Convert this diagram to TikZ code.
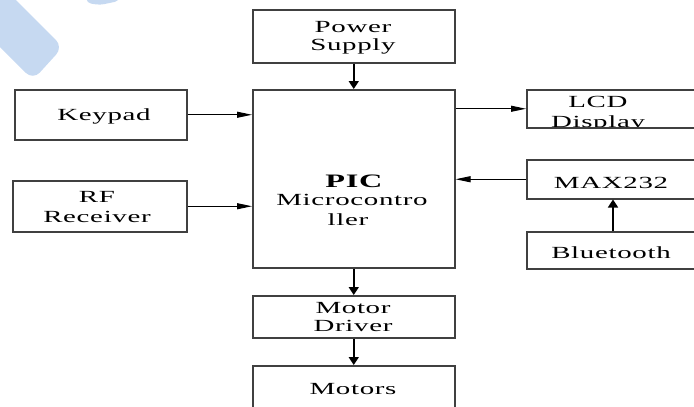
\documentclass[tikz,border=0pt]{standalone}
\usepackage{fontspec}
\setmainfont{Liberation Serif}[FakeStretch=1.7, LetterSpace=4]
\usetikzlibrary{arrows.meta}
\definecolor{wm}{HTML}{C6D9F1}
\definecolor{boxline}{HTML}{404040}
\begin{document}
\begin{tikzpicture}[x=1pt,y=-1pt,
  blk/.style={draw=boxline, line width=1.5pt, rectangle, inner sep=0pt, anchor=north west},
  txt/.style={anchor=base, inner sep=0pt, font=\fontsize{17}{18}\selectfont},
  vArr/.style={line width=1.7pt, -{Triangle[length=8pt,width=10pt]}},
  hArr/.style={line width=1pt, -{Triangle[length=15pt,width=6pt]}}]
\useasboundingbox (0,0) rectangle (694,407);
\clip (0,0) rectangle (694,407);
% watermark
\fill[wm, rounded corners=10pt] (-60,-76) -- (63,47) -- (33,80) -- (-60,-13) -- cycle;
\fill[wm, rounded corners=4pt] (84,-20) -- (87,3) -- (100,5) -- (119,1) -- (122,-20) -- cycle;
% boxes
\node[blk, minimum width=202pt, minimum height=53pt] (ps) at (252,9) {};
\node[blk, minimum width=202pt, minimum height=178pt] (pic) at (252,89) {};
\node[blk, minimum width=172pt, minimum height=50pt] (kp) at (14,89) {};
\node[blk, minimum width=174pt, minimum height=51pt] (rf) at (12,180) {};
\node[blk, minimum width=180pt, minimum height=38pt] (lcd) at (526,89) {};
\node[blk, minimum width=180pt, minimum height=39pt] (max) at (526,159) {};
\node[blk, minimum width=180pt, minimum height=37pt] (bt) at (526,231) {};
\node[blk, minimum width=202pt, minimum height=42pt] (md) at (252,295) {};
\node[blk, minimum width=202pt, minimum height=60pt] (mo) at (252,365) {};
% texts
\node[txt] (t-ps1) at (353,32) {Power};
\node[txt] (t-ps2) at (353,50) {Supply};
\node[txt] (t-kp) at (104,120) {Keypad};
\node[txt] (t-rf1) at (97,202) {RF};
\node[txt] (t-rf2) at (97,222) {Receiver};
\node[txt, font=\fontsize{19}{18}\selectfont\bfseries] (t-pic1) at (354,187) {PIC};
\node[txt] (t-pic2) at (352,205) {Microcontro};
\node[txt] (t-pic3) at (348,225) {ller};
\begin{scope}
  \clip (526,89) rectangle (700,126);
  \node[txt] (t-lcd1) at (598,107) {LCD};
  \node[txt] (t-lcd2) at (598,127) {Display};
\end{scope}
\node[txt] (t-max) at (611,188) {MAX232};
\node[txt] (t-bt) at (611,258) {Bluetooth};
\node[txt] (t-md1) at (353,313) {Motor};
\node[txt] (t-md2) at (353,331) {Driver};
\node[txt] (t-mo) at (353,394) {Motors};
% connectors
\coordinate (btx) at (613,0);
\draw[vArr] (ps) -- (pic);
\draw[vArr] (pic) -- (md);
\draw[vArr] (md) -- (mo);
\draw[hArr] (kp.east) -- (kp.east -| pic.west);
\draw[hArr] (rf.east) -- (rf.east -| pic.west);
\draw[hArr] (lcd.west -| pic.east) -- (lcd.west);
\draw[hArr] (max.west) -- (max.west -| pic.east);
\draw[vArr] (bt.north -| btx) -- (max.south -| btx);
\end{tikzpicture}
\end{document}
